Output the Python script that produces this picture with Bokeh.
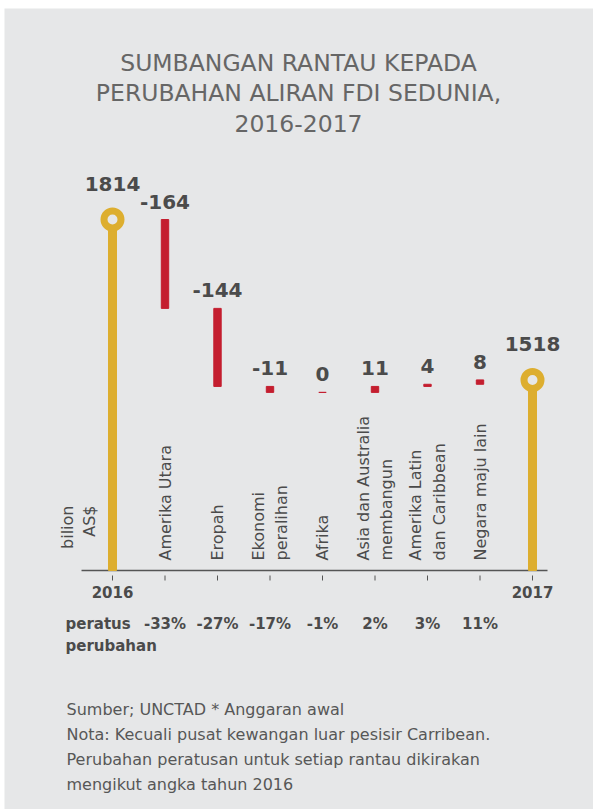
import numpy as np
from bokeh.plotting import figure
from bokeh.models import Range1d, Label
from bokeh.core.properties import value
from bokeh.embed import file_html
from bokeh.resources import INLINE

# ---------------- data ----------------
years = ["2016", "2017"]
totals = [1814, 1518]
regions = ["Amerika Utara", "Eropah", "Ekonomi\nperalihan", "Afrika",
           "Asia dan Australia\nmembangun", "Amerika Latin\ndan Caribbean",
           "Negara maju lain"]
changes = [-164, -144, -11, 0, 11, 4, 8]
pct_change = ["-33%", "-27%", "-17%", "-1%", "2%", "3%", "11%"]

title_lines = ["SUMBANGAN RANTAU KEPADA", "PERUBAHAN ALIRAN FDI SEDUNIA,", "2016-2017"]
unit_label = "bilion\nAS$"
pct_label = "peratus\nperubahan"
notes = ["Sumber; UNCTAD * Anggaran awal",
         "Nota: Kecuali pusat kewangan luar pesisir Carribean.",
         "Perubahan peratusan untuk setiap rantau dikirakan",
         "mengikut angka tahun  2016"]

# ---------------- style ----------------
BG = "#E6E7E8"
GOLD = "#DDAE2F"
RED = "#C41E2F"
DARK = "#4B4B4B"
TITLE_C = "#666666"
NOTE_C = "#575757"
AXIS_C = "#555555"
FONT = "DejaVu Sans"

W, H = 593, 809
PANEL_L, PANEL_T = 4, 8          # grey panel origin on the page
STEP = 52.5                      # px between categories
X_ORIGIN = 112                   # page x of first category
PX_PER_UNIT = 0.542              # px per billion
Y_REF_VAL, Y_REF_PX = 1814, 219  # value / page y used to anchor the scale
BASE_PX = 570                    # page y of the baseline


def X(px):
    return (px - X_ORIGIN) / STEP


def Y(py):
    return Y_REF_VAL - (py - Y_REF_PX) / PX_PER_UNIT


n = len(regions)
x_reg = list(range(1, n + 1))
x_tot = [0, n + 1]
x_all = list(range(n + 2))

cum = np.concatenate([[totals[0]], totals[0] + np.cumsum(changes)])
starts, ends = cum[:-1], cum[1:]
bar_top = np.maximum(starts, ends)
bar_bot = np.minimum(starts, ends)

BASE = Y(BASE_PX)

p = figure(width=W, height=H,
           x_range=Range1d(X(PANEL_L), X(W)), y_range=Range1d(Y(H), Y(PANEL_T)),
           x_axis_type=None, y_axis_type=None,
           output_backend="svg", toolbar_location=None,
           min_border_left=PANEL_L, min_border_top=PANEL_T,
           min_border_right=0, min_border_bottom=0,
           background_fill_color=BG, border_fill_color="white",
           outline_line_color=None)

# baseline and ticks
p.segment(x0=[-0.59], x1=[n + 1 + 0.286], y0=[BASE], y1=[BASE],
          line_color=AXIS_C, line_width=1.5)
p.segment(x0=x_all, x1=x_all, y0=[Y(575)] * len(x_all), y1=[Y(580)] * len(x_all),
          line_color=AXIS_C, line_width=1)

# lollipops for totals
p.vbar(x=x_tot, bottom=BASE, top=totals, width=8 / STEP, color=GOLD)
p.scatter(x=x_tot, y=totals, size=17, fill_color=BG, line_color=GOLD, line_width=7)

# waterfall bars
p.vbar(x=x_reg, bottom=bar_bot, top=bar_top, width=7.4 / STEP,
       fill_color=RED, line_color=RED, line_width=1)

# value labels
p.text(x=x_tot, y=totals, text=[str(t) for t in totals],
       text_align="center", text_baseline="middle", y_offset=-36,
       text_font=value(FONT), text_font_style="bold", text_font_size="20px",
       text_color=DARK)
p.text(x=x_reg, y=bar_top, text=[str(c) for c in changes],
       text_align="center", text_baseline="middle", y_offset=-18,
       text_font=value(FONT), text_font_style="bold", text_font_size="20px",
       text_color=DARK)

# rotated region names
p.text(x=x_reg, y=[BASE] * n, text=regions, angle=np.pi / 2,
       text_align="left", text_baseline="middle", y_offset=-10,
       text_font=value(FONT), text_font_size="16px", text_line_height=1.25,
       text_color=DARK)

# year labels under the axis
p.text(x=x_tot, y=[Y(591)] * 2, text=years,
       text_align="center", text_baseline="middle",
       text_font=value(FONT), text_font_style="bold", text_font_size="15px",
       text_color=DARK)

# percentage change row
p.text(x=x_reg, y=[Y(623)] * n, text=pct_change,
       text_align="center", text_baseline="middle",
       text_font=value(FONT), text_font_style="bold", text_font_size="15px",
       text_color=DARK)


# ---------------- free texts (screen units relative to the grey panel) ----------------
def sx(px):
    return px - PANEL_L


def sy(py):
    return H - py


for line, cy in zip(title_lines, [62.5, 92.5, 123]):
    p.add_layout(Label(x=sx(298), y=sy(cy), x_units="screen", y_units="screen",
                       text=line, text_align="center", text_baseline="middle",
                       text_font=FONT, text_font_size="23.5px", text_color=TITLE_C))

p.add_layout(Label(x=sx(78), y=sy(505), x_units="screen", y_units="screen",
                   text=unit_label, angle=np.pi / 2, text_align="right",
                   text_baseline="middle", text_line_height=1.15,
                   text_font=FONT, text_font_size="16px", text_color=DARK))

p.add_layout(Label(x=sx(65), y=sy(614), x_units="screen", y_units="screen",
                   text=pct_label, text_align="left", text_baseline="top",
                   text_line_height=1.25,
                   text_font=FONT, text_font_style="bold", text_font_size="15px",
                   text_color=DARK))

for line, cy in zip(notes, [709, 734, 759, 784]):
    p.add_layout(Label(x=sx(66), y=sy(cy), x_units="screen", y_units="screen",
                       text=line, text_align="left", text_baseline="middle",
                       text_font=FONT, text_font_size="16px", text_color=NOTE_C))

open("out.html", "w").write(file_html(p, INLINE))
